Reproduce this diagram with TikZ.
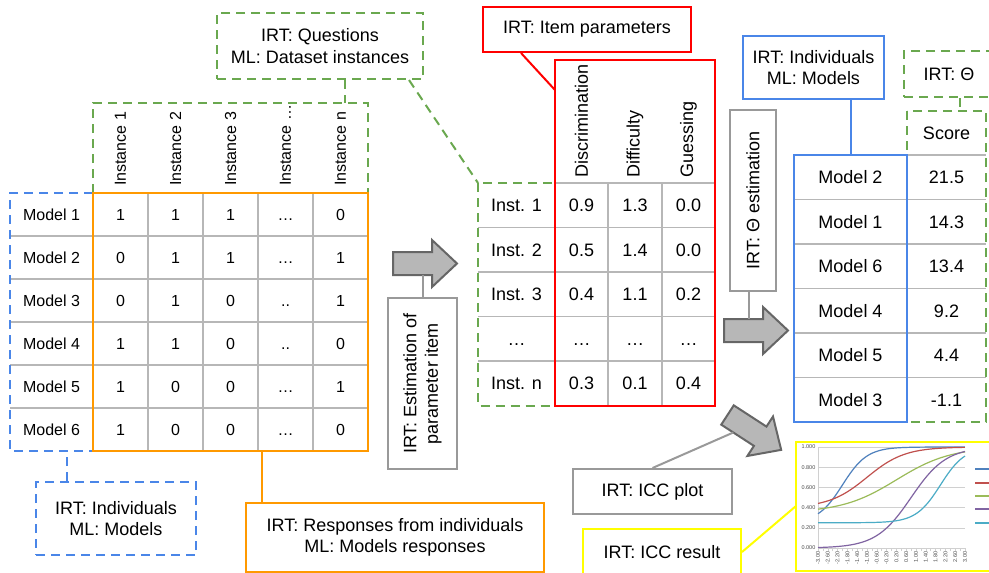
\documentclass[tikz,border=0pt]{standalone}
\usepackage{fontspec}
\setmainfont{Liberation Sans}
\usetikzlibrary{calc}

\definecolor{irtgreen}{HTML}{6AA84F}
\definecolor{irtblue}{HTML}{4A86E8}
\definecolor{irtorange}{HTML}{FF9900}
\definecolor{irtred}{HTML}{FF0000}
\definecolor{irtyellow}{HTML}{FFFF00}
\definecolor{boxgray}{HTML}{999999}
\definecolor{cellgray}{HTML}{B7B7B7}
\definecolor{arrowfill}{HTML}{B7B7B7}
\definecolor{arrowline}{HTML}{666666}
\definecolor{chartgrid}{HTML}{D0D0D0}
\definecolor{icc1}{HTML}{4F81BD}
\definecolor{icc2}{HTML}{C0504D}
\definecolor{icc3}{HTML}{9BBB59}
\definecolor{icc4}{HTML}{8064A2}
\definecolor{icc5}{HTML}{4BACC6}

\begin{document}
\begin{tikzpicture}[x=1pt,y=-1pt,
    tag/.style={draw, line width=2pt, fill=white, align=center, inner sep=0pt,
                font=\fontsize{18}{21.5}\selectfont},
    dashbox/.style={dash pattern=on 9pt off 6pt},
    link/.style={line width=2pt},
    headsmall/.style={font=\fontsize{16}{19}\selectfont, inner sep=0pt},
    headbig/.style={font=\fontsize{18}{21.5}\selectfont, inner sep=0pt},
    tabsmall/.style={headsmall, text height=11.5pt, text depth=0pt},
    tabbig/.style={headbig, text height=12.9pt, text depth=0pt},
    cell/.style={cellgray, line width=1.2pt},
    blockarrow/.style={fill=arrowfill, draw=arrowline, line width=2pt, line join=miter},
    gridline/.style={chartgrid, line width=0.6pt},
    curve/.style={line width=1.2pt, smooth, domain=-3:3, samples=60},
    charttxt/.style={font=\fontsize{5.5}{6}\selectfont, inner sep=0.5pt, text=black!70}]

\useasboundingbox (0,0) rectangle (989,573);
\clip (0,0) rectangle (989,573);

% Left table: responses of the models to the instances
\foreach \i in {1,...,5}
  \draw[cell] (10,{193+43*\i}) -- (368,{193+43*\i});
\foreach \x in {148,203,258,313}
  \draw[cell] (\x,193) -- (\x,451);
\draw[irtgreen, link, dashbox] (93,193) -- (93,103) -- (368,103) -- (368,193);
\draw[irtblue, link, dashbox] (93,193) -- (10,193) -- (10,451) -- (93,451);
\draw[irtorange, link] (93,193) rectangle (368,451);
\foreach \h [count=\k] in {Instance 1,Instance 2,Instance 3,Instance …,Instance n}
  \node[headsmall, rotate=90, anchor=west] (inst\k) at ({65.5+55*\k},186) {\h};
\foreach \row [count=\m] in {{1,1,1,…,0},{0,1,1,…,1},{0,1,0,..,1},{1,1,0,..,0},{1,0,0,…,1},{1,0,0,…,0}} {
  \node[tabsmall] (model\m) at (51.5,{171.5+43*\m}) {Model \m};
  \foreach \v [count=\k] in \row
    \node[tabsmall] (answer\m\k) at ({65.5+55*\k},{171.5+43*\m}) {\v};
}

% Middle table: item parameters
\foreach \i in {1,...,4}
  \draw[cell] (478,{183+44.5*\i}) -- (715,{183+44.5*\i});
\draw[cell] (555,183) -- (715,183);
\foreach \x in {608,662}
  \draw[cell] (\x,183) -- (\x,405.5);
\draw[irtgreen, link, dashbox] (478,183) rectangle (555,405.5);
\draw[irtred, link] (555,60) rectangle (715,405.5);
\foreach \h/\x in {Discrimination/581.5, Difficulty/635, Guessing/688.5}
  \node[headbig, rotate=90, anchor=west] (\h) at (\x,178) {\h};
\foreach \name/\a/\b/\g [count=\m] in {Inst. 1/0.9/1.3/0.0, Inst. 2/0.5/1.4/0.0,
    Inst. 3/0.4/1.1/0.2, …/…/…/…, Inst. n/0.3/0.1/0.4} {
  \node[tabbig] (item\m) at (516.5,{160.75+44.5*\m}) {\name};
  \node[tabbig] (disc\m) at (581.5,{160.75+44.5*\m}) {\a};
  \node[tabbig] (diff\m) at (635,{160.75+44.5*\m}) {\b};
  \node[tabbig] (gues\m) at (688.5,{160.75+44.5*\m}) {\g};
}

% Right table: ranking by ability
\foreach \i in {1,...,5}
  \draw[cell] (794,{155+44.5*\i}) -- (986,{155+44.5*\i});
\draw[cell] (907,155) -- (986,155);
\draw[irtgreen, link, dashbox] (907,111) rectangle (986,422);
\draw[irtblue, link] (794,155) rectangle (907,422);
\node[tabbig] (score) at (946.5,133) {Score};
\foreach \mm/\s [count=\m] in {2/21.5, 1/14.3, 6/13.4, 4/9.2, 5/4.4, 3/-1.1} {
  \node[tabbig] (rank\m) at (850.5,{132.75+44.5*\m}) {Model \mm};
  \node[tabbig] (ability\m) at (946.5,{132.75+44.5*\m}) {\s};
}

% Block arrows
\foreach \p/\a in {{(393,263.5)}/0, {(724,330.5)}/0, {(727.5,415)}/-33}
  \draw[blockarrow, shift={\p}, rotate=\a] (0,-11.5) -- (39,-11.5) -- (39,-23.5)
    -- (64,0) -- (39,23.5) -- (39,11.5) -- (0,11.5) -- cycle;

% ICC chart
\draw[irtyellow, link, fill=white] (796,442) rectangle (1002,571);
\begin{scope}[shift={(891.5,548)}, x=24.5pt, y=101pt]
  \foreach \v in {0.2,0.4,0.6,0.8,1.0}
    \draw[gridline] (-3,\v) -- (3,\v);
  \draw[gridline] (-3,0) -- (-3,1);
  \draw[gridline] (-3,0) -- (3,0);
  \foreach \k in {0,...,30}
    \draw[gridline] ({-3+0.2*\k},0) -- ({-3+0.2*\k},-0.025);
  \foreach \s [count=\k from 0] in {0.000,0.200,0.400,0.600,0.800,1.000}
    \node[charttxt, anchor=east] at (-3.08,{0.2*\k}) {\s};
  \foreach \s [count=\k from 0] in {-3.00,-2.60,-2.20,-1.80,-1.40,-1.00,-0.60,-0.20,
      0.20,0.60,1.00,1.40,1.80,2.20,2.60,3.00}
    \node[charttxt, rotate=90, anchor=east] at ({-3+0.4*\k},-0.03) {\s};
  \draw[icc1, curve] plot (\x, {0.25+0.75/(1+exp(-2*(\x+2)))});
  \draw[icc2, curve] plot (\x, {0.4+0.6/(1+exp(-1.3*(\x+1)))});
  \draw[icc3, curve] plot (\x, {0.35+0.65/(1+exp(-0.9*(\x-0.2)))});
  \draw[icc4, curve] plot (\x, {1/(1+exp(-1.4*(\x-0.8)))});
  \draw[icc5, curve] plot (\x, {0.25+0.75*exp(2*(\x-2))/(1+exp(2*(\x-2)))});
  \foreach \col/\v in {icc1/0.782, icc2/0.644, icc3/0.515, icc4/0.386, icc5/0.248}
    \draw[\col, line width=1.2pt] (3.41,\v) -- (4.2,\v);
\end{scope}

% Labels
\node[tag, draw=irtgreen, dashbox, minimum width=206pt, minimum height=66pt] (quest) at (320,46) {IRT: Questions\\ML: Dataset instances};
\node[tag, draw=irtred, minimum width=208pt, minimum height=45pt] (params) at (587,29.5) {IRT: Item parameters};
\node[tag, draw=irtblue, minimum width=141pt, minimum height=63pt] (indiv) at (813.5,67.5) {IRT: Individuals\\ML: Models};
\node[tag, draw=irtgreen, dashbox, minimum width=90pt, minimum height=46pt] (thetalabel) at (949,74) {IRT: Θ};
\node[tag, draw=boxgray, rotate=90, minimum width=171pt, minimum height=69pt] (estimitem) at (422.5,383.5) {IRT: Estimation of\\parameter item};
\node[tag, draw=boxgray, rotate=90, minimum width=181pt, minimum height=46pt] (estimtheta) at (753,200.5) {IRT: Θ estimation};
\node[tag, draw=irtblue, dashbox, minimum width=160pt, minimum height=73pt] (models) at (116,518.5) {IRT: Individuals\\ML: Models};
\node[tag, draw=irtorange, minimum width=298pt, minimum height=69pt] (responses) at (395,537.5) {IRT: Responses from individuals\\ML: Models responses};
\node[tag, draw=boxgray, minimum width=159pt, minimum height=45pt] (iccplot) at (652.5,491.5) {IRT: ICC plot};
\node[tag, draw=irtyellow, minimum width=158pt, minimum height=46pt] (iccresult) at (662,552) {IRT: ICC result};

% Connectors
\coordinate (qfoot) at (345,103);
\coordinate (instcorner) at (478,183);
\coordinate (redside) at (555,90);
\coordinate (btop) at (851,155);
\coordinate (stop) at (960,111);
\coordinate (lbot) at (67,451);
\coordinate (obot) at (262,451);
\coordinate (a1stem) at (422.5,275);
\coordinate (a2stem) at (749,319);
\coordinate (a3stem) at (733.3,432.5);
\coordinate (iccleft) at (796,506);

\draw[irtgreen, link, dashbox] (quest.south -| qfoot) -- (qfoot);
\draw[irtgreen, link, dashbox] ($(quest.south east)+(-15,0)$) -- (instcorner);
\draw[irtred, link] ($(params.south west)+(39,0)$) -- (redside);
\draw[irtblue, link] (indiv.south -| btop) -- (btop);
\draw[irtgreen, link, dashbox] (thetalabel.south -| stop) -- (stop);
\draw[irtblue, link, dashbox] (models.north -| lbot) -- (lbot);
\draw[irtorange, link] (responses.north -| obot) -- (obot);
\draw[boxgray, link] (estimitem.east) -- (a1stem);
\draw[boxgray, link] (estimtheta.west -| a2stem) -- (a2stem);
\draw[boxgray, link] (iccplot.north) -- (a3stem);
\draw[irtyellow, link] (iccresult.east) -- (iccleft);
\end{tikzpicture}
\end{document}
